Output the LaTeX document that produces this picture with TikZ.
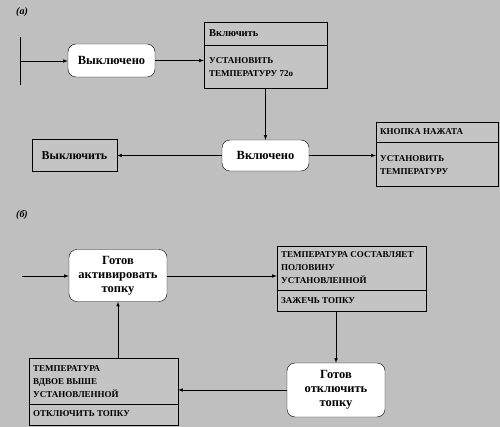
\documentclass[tikz,border=0pt]{standalone}
\usepackage{fontspec}
\setmainfont{Liberation Serif}

\tikzset{
  state/.style={draw, fill=white, rounded corners=8pt, align=center, inner sep=0pt,
    font=\bfseries\fontsize{12.5}{14}\selectfont},
  actbox/.style={draw, fill=gray!46, inner sep=0pt},
  acttext/.style={anchor=west, align=left, inner sep=0pt,
    font=\bfseries\fontsize{9}{13}\selectfont},
  flow/.style={-latex, semithick}
}

\begin{document}
\begin{tikzpicture}[x=1pt, y=-1pt]
    % Background
    \fill[gray!50] (0,0) rectangle (500,427);
    \useasboundingbox (0,0) rectangle (500,427);

    % (a) Thermostat
    \node[font=\bfseries\itshape] (la) at (22,12) {(а)};
    \coordinate (bar) at (20,61);
    \draw[thick] (20,37) -- (20,85);

    \node[state, minimum width=87, minimum height=33] (off) at (111.5,60.5) {Выключено};

    \node[actbox, minimum width=123, minimum height=66] (set) at (265.5,55) {};
    \draw (set.west |- 0,45) -- (set.east |- 0,45);
    \node[acttext, font=\bfseries\fontsize{10.5}{12}\selectfont] (setev) at (209,33.5) {Включить};
    \node[acttext] (setdo) at (209,67.5) {УСТАНОВИТЬ\\ТЕМПЕРАТУРУ 72о};

    \node[state, minimum width=87, minimum height=31] (on) at (265.5,155.5) {Включено};

    \node[actbox, minimum width=85, minimum height=32, font=\bfseries\fontsize{12}{14}\selectfont]
        (stop) at (74.5,155.5) {Выключить};

    \node[actbox, minimum width=122, minimum height=64] (btn) at (437,154) {};
    \draw (btn.west |- 0,142) -- (btn.east |- 0,142);
    \node[acttext] (btnev) at (380,132) {КНОПКА НАЖАТА};
    \node[acttext] (btndo) at (380,165) {УСТАНОВИТЬ\\ТЕМПЕРАТУРУ};

    \draw[flow] (bar) -- (off.west |- bar);
    \draw[flow] (off.east) -- (set.west |- off.east);
    \draw[flow] (set.south -| on.north) -- (on.north);
    \draw[flow] (on.west) -- (stop.east);
    \draw[flow] (on.east) -- (btn.west |- on.east);

    % (b) Furnace
    \node[font=\bfseries\itshape] (lb) at (22,215) {(б)};
    \coordinate (start) at (22,276);

    \node[state, minimum width=98, minimum height=52] (ready) at (118,275.5) {Готов\\активировать\\топку};

    \node[actbox, minimum width=149, minimum height=65] (heat) at (351.5,278.5) {};
    \draw (heat.west |- 0,290) -- (heat.east |- 0,290);
    \node[acttext] (heatev) at (281,268) {ТЕМПЕРАТУРА СОСТАВЛЯЕТ\\ПОЛОВИНУ\\УСТАНОВЛЕННОЙ};
    \node[acttext] (heatdo) at (281,301) {ЗАЖЕЧЬ ТОПКУ};

    \node[state, minimum width=98, minimum height=54] (hot) at (336,390) {Готов\\отключить\\топку};

    \node[actbox, minimum width=149, minimum height=67] (cool) at (103.5,391.5) {};
    \draw (cool.west |- 0,404) -- (cool.east |- 0,404);
    \node[acttext] (coolev) at (33,382) {ТЕМПЕРАТУРА\\ВДВОЕ ВЫШЕ\\УСТАНОВЛЕННОЙ};
    \node[acttext] (cooldo) at (33,414) {ОТКЛЮЧИТЬ ТОПКУ};

    \draw[flow] (start) -- (ready.west |- start);
    \draw[flow] (ready.east |- start) -- (heat.west |- start);
    \draw[flow] (heat.south -| hot.north) -- (hot.north);
    \draw[flow] (hot.west) -- (cool.east |- hot.west);
    \draw[flow] (cool.north -| ready.south) -- (ready.south);
\end{tikzpicture}
\end{document}
